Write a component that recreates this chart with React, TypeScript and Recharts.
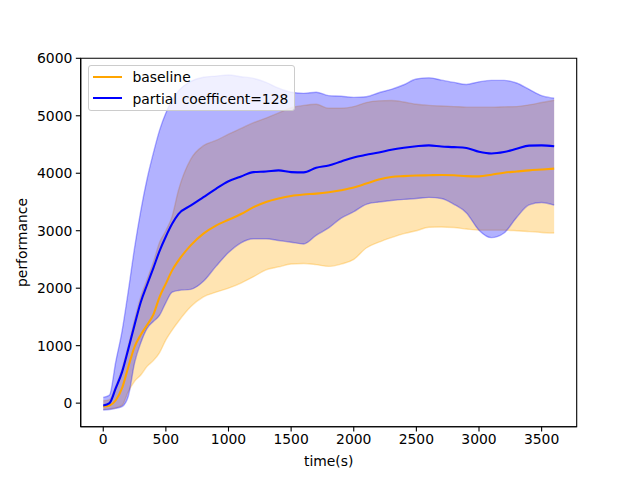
import React from 'react';
import { ComposedChart, Line, Area, XAxis, YAxis, ReferenceArea, Label } from 'recharts';

// time steps (s)
const times = [0, 50, 100, 150, 200, 250, 300, 350, 400, 450, 500, 550, 600, 700, 800, 900, 1000, 1100, 1200, 1300, 1400, 1500, 1600, 1700, 1800, 1900, 2000, 2100, 2200, 2300, 2400, 2500, 2600, 2700, 2800, 2900, 3000, 3100, 3200, 3300, 3400, 3500, 3600];

// baseline
const baselineMean = [-60, -40, 50, 260, 630, 980, 1190, 1360, 1540, 1850, 2080, 2310, 2480, 2750, 2950, 3090, 3190, 3290, 3410, 3500, 3560, 3605, 3630, 3645, 3670, 3705, 3750, 3820, 3890, 3935, 3950, 3960, 3965, 3970, 3965, 3950, 3945, 3975, 4010, 4030, 4050, 4065, 4080];
const baselineLower = [-110, -100, -80, -40, 200, 380, 490, 640, 740, 880, 1100, 1270, 1420, 1680, 1850, 1930, 2000, 2090, 2200, 2320, 2370, 2420, 2430, 2410, 2380, 2420, 2500, 2700, 2800, 2880, 2950, 3000, 3060, 3065, 3055, 3030, 3010, 3010, 3010, 3000, 2985, 2970, 2960];
const baselineUpper = [40, 60, 300, 600, 1000, 1450, 1850, 2150, 2450, 2800, 3000, 3250, 3700, 4250, 4480, 4570, 4680, 4780, 4880, 4960, 5050, 5140, 5180, 5200, 5130, 5130, 5160, 5230, 5260, 5265, 5240, 5200, 5180, 5170, 5160, 5150, 5150, 5150, 5155, 5160, 5190, 5230, 5270];

// partial coefficent=128
const partialMean = [-40, 0, 260, 540, 940, 1360, 1760, 2060, 2350, 2650, 2900, 3120, 3290, 3440, 3585, 3730, 3860, 3945, 4020, 4030, 4050, 4020, 4015, 4095, 4135, 4205, 4275, 4320, 4360, 4410, 4445, 4470, 4485, 4465, 4455, 4440, 4375, 4345, 4370, 4425, 4480, 4485, 4470];
const partialLower = [-120, -110, -90, -60, 120, 700, 1050, 1300, 1420, 1530, 1750, 1930, 1960, 1980, 2120, 2380, 2620, 2790, 2860, 2860, 2830, 2800, 2770, 2920, 3050, 3220, 3330, 3460, 3500, 3525, 3545, 3560, 3580, 3560, 3460, 3310, 3010, 2880, 2960, 3230, 3450, 3490, 3445];
const partialUpper = [100, 140, 720, 1250, 1950, 2700, 3350, 3900, 4350, 4750, 5050, 5270, 5430, 5600, 5670, 5690, 5710, 5680, 5650, 5580, 5480, 5410, 5390, 5410, 5350, 5340, 5320, 5330, 5400, 5460, 5540, 5640, 5660, 5620, 5580, 5545, 5590, 5615, 5615, 5570, 5460, 5350, 5305];

const xTicks = [0, 500, 1000, 1500, 2000, 2500, 3000, 3500];
const yTicks = [0, 1000, 2000, 3000, 4000, 5000, 6000];

const seriesNames = ['baseline', 'partial coefficent=128'];
const seriesColors = ['#ffa500', '#0000ff'];

const data = times.map((t, i) => ({
  t,
  baseMean: baselineMean[i],
  baseBand: [baselineLower[i], baselineUpper[i]],
  partMean: partialMean[i],
  partBand: [partialLower[i], partialUpper[i]],
}));

const font = '"DejaVu Sans", sans-serif';
const tickStyle = { fill: '#000', fontSize: 13.9, fontFamily: font };

export default function App() {
  return (
    <div style={{ position: 'absolute', left: 0, top: 0, width: 640, height: 480, background: '#fff' }}>
      <ComposedChart
        width={640}
        height={480}
        data={data}
        margin={{ top: 58.3, right: 63.3, bottom: 23.3, left: 20.7 }}
      >
        <XAxis
          dataKey="t"
          type="number"
          domain={[-180, 3780]}
          ticks={xTicks}
          allowDataOverflow
          height={30}
          tickSize={4.86}
          tickMargin={3}
          stroke="#000"
          strokeWidth={1.1}
          tick={tickStyle}
        >
          <Label value="time(s)" position="bottom" offset={-1} style={{ fill: '#000', fontSize: 13.9, fontFamily: font }} />
        </XAxis>
        <YAxis
          type="number"
          domain={[-410, 6000]}
          ticks={yTicks}
          allowDataOverflow
          width={60}
          tickSize={4.86}
          tickMargin={3.5}
          stroke="#000"
          strokeWidth={1.1}
          tick={tickStyle}
        >
          <Label value="performance" angle={-90} position="insideLeft" offset={1.5} style={{ textAnchor: 'middle', fill: '#000', fontSize: 13.9, fontFamily: font }} />
        </YAxis>
        <Area
          dataKey="baseBand"
          type="monotone"
          fill={seriesColors[0]}
          fillOpacity={0.3}
          stroke={seriesColors[0]}
          strokeOpacity={0.3}
          strokeWidth={1.39}
          isAnimationActive={false}
          dot={false}
          activeDot={false}
        />
        <Area
          dataKey="partBand"
          type="monotone"
          fill={seriesColors[1]}
          fillOpacity={0.3}
          stroke={seriesColors[1]}
          strokeOpacity={0.3}
          strokeWidth={1.39}
          isAnimationActive={false}
          dot={false}
          activeDot={false}
        />
        <Line dataKey="baseMean" type="monotone" stroke={seriesColors[0]} strokeWidth={2.08} dot={false} isAnimationActive={false} />
        <Line dataKey="partMean" type="monotone" stroke={seriesColors[1]} strokeWidth={2.08} dot={false} isAnimationActive={false} />
        <ReferenceArea x1={-180} x2={3780} y1={-410} y2={6000} fill="none" stroke="#000" strokeWidth={1.1} ifOverflow="visible" />
      </ComposedChart>

      {/* legend box, like matplotlib's upper left */}
      <div
        style={{
          position: 'absolute',
          left: 87.5,
          top: 65,
          width: 205,
          height: 44,
          background: 'rgba(255,255,255,0.8)',
          border: '1px solid #cccccc',
          borderRadius: 3,
          fontFamily: font,
          fontSize: 13.9,
        }}
      >
        {seriesNames.map((name, i) => (
          <div key={name} style={{ position: 'absolute', left: 0, top: 1 + i * 21.5, height: 20, width: '100%' }}>
            <div style={{ position: 'absolute', left: 4, top: 8.5, width: 29, height: 2.08, background: seriesColors[i] }} />
            <span style={{ position: 'absolute', left: 44, top: 0, lineHeight: '20px', whiteSpace: 'nowrap', color: '#000' }}>{name}</span>
          </div>
        ))}
      </div>
    </div>
  );
}
